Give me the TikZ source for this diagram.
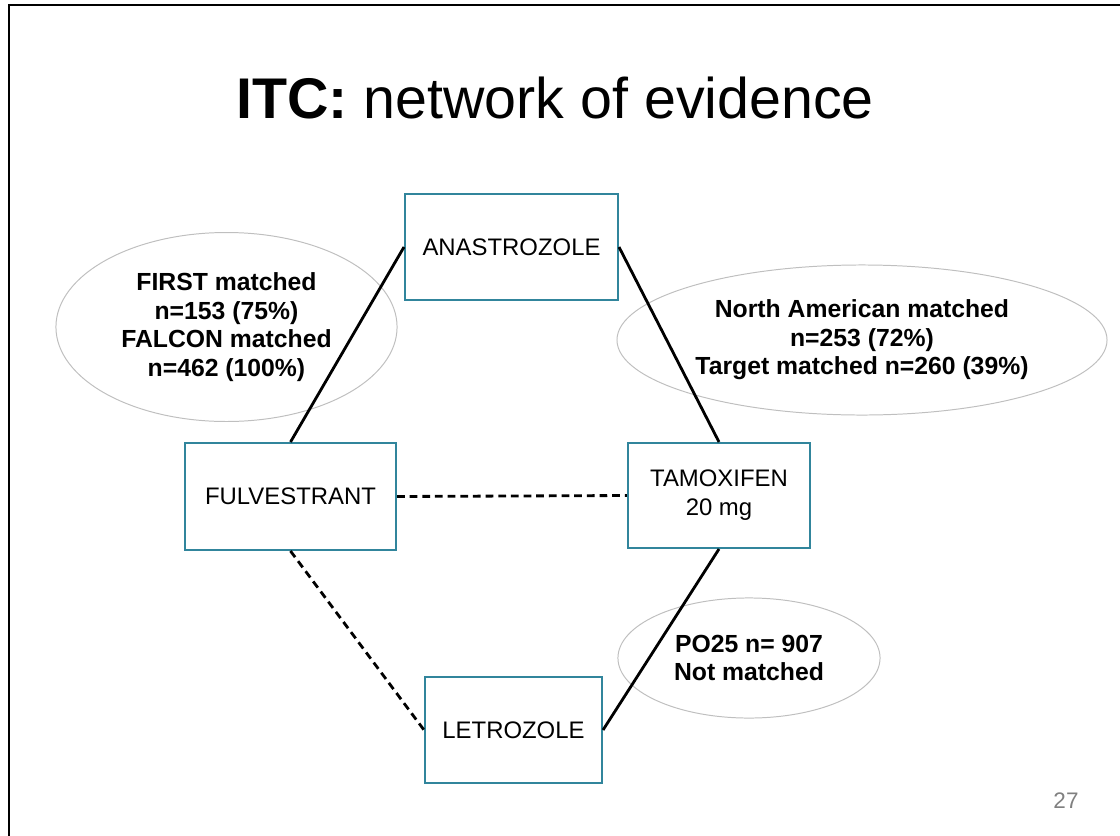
\documentclass[tikz,border=0pt]{standalone}
\usepackage{fontspec}
\setmainfont{Liberation Sans}
\usetikzlibrary{shapes.geometric}

\definecolor{boxteal}{RGB}{49,133,156}
\definecolor{ringgray}{RGB}{191,191,191}
\definecolor{pagegray}{RGB}{128,128,128}

\begin{document}
\begin{tikzpicture}[x=0.025cm, y=-0.025cm,
    drug/.style={draw=boxteal, line width=1.4pt, fill=white, align=center, inner sep=0pt,
        font=\fontsize{17}{20.6}\selectfont},
    trial/.style={draw=ringgray, ellipse, line width=0.7pt, inner sep=0pt, align=center,
        font=\fontsize{17.6}{20.2}\selectfont\bfseries},
    link/.style={line width=2pt},
    maybe/.style={line width=2pt, dash pattern=on 5.5pt off 3.5pt}]

    \useasboundingbox (0,0) rectangle (1120,836);
    \draw [line width=2pt] (9,836) -- (9,5) -- (1120,5);

    \node (title) [anchor=base] at (555,118) {\fontsize{40.8}{48}\selectfont\textbf{ITC:} network of evidence};

    % trials
    \node (firstfalcon) [trial, minimum width=242.6pt, minimum height=134.4pt] at (226.5,327)
        {FIRST matched\\n=153 (75\%)\\FALCON matched\\n=462 (100\%)};
    \node (natarget) [trial, minimum width=348.5pt, minimum height=106.7pt] at (862,340)
        {North American matched\\n=253 (72\%)\\Target matched n=260 (39\%)};
    \node (po25) [trial, minimum width=186.4pt, minimum height=85.4pt] at (749,658)
        {PO25 n= 907\\Not matched};

    % drugs
    \node (ana) [drug, minimum width=151.5pt, minimum height=75.4pt] at (511.5,247) {ANASTROZOLE};
    \node (ful) [drug, minimum width=150.1pt, minimum height=76.1pt] at (290.5,496.5) {FULVESTRANT};
    \node (tam) [drug, minimum width=129.5pt, minimum height=74.7pt] at (719,495.5) {TAMOXIFEN\\20 mg};
    \node (let) [drug, minimum width=125.9pt, minimum height=75.4pt] at (513.5,730) {LETROZOLE};

    \draw [link] (ana.west) -- (ful.north);
    \draw [link] (ana.east) -- (tam.north);
    \draw [link] (tam.south) -- (let.east);
    \draw [maybe] (ful.east) -- (tam.west);
    \draw [maybe] (ful.south) -- (let.west);

    \node (page) [anchor=base, text=pagegray, font=\fontsize{16}{19}\selectfont] at (1066,808) {27};

\end{tikzpicture}
\end{document}
